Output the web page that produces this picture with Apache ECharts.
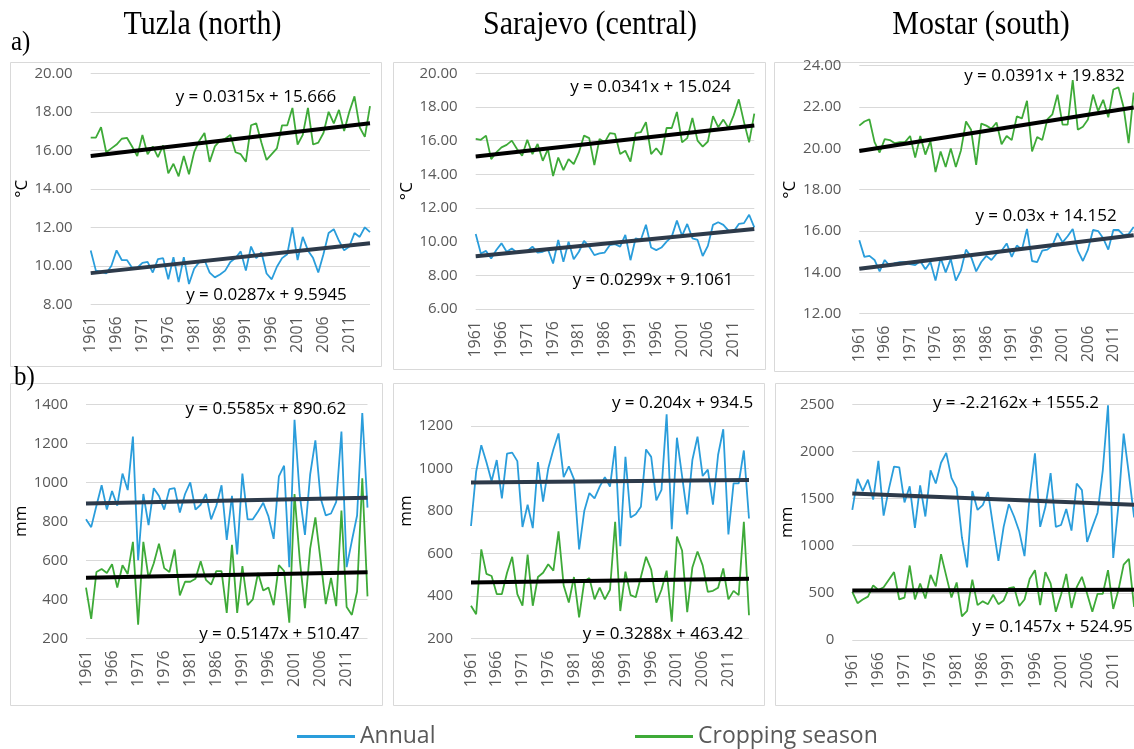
<!DOCTYPE html>
<html><head><meta charset="utf-8">
<script src="https://cdn.jsdelivr.net/npm/echarts@6/dist/echarts.min.js"></script>
<style>html,body{margin:0;padding:0;background:#fff}#c{width:1134px;height:749px}</style>
</head><body><div id="c"></div>
<script>
const years = ['1961','1962','1963','1964','1965','1966','1967','1968','1969','1970','1971','1972','1973','1974','1975','1976','1977','1978','1979','1980','1981','1982','1983','1984','1985','1986','1987','1988','1989','1990','1991','1992','1993','1994','1995','1996','1997','1998','1999','2000','2001','2002','2003','2004','2005','2006','2007','2008','2009','2010','2011','2012','2013','2014','2015'];

// a) temperature (°C)
const tuzlaTempAnnual = [10.79,9.75,9.7,9.6,10.0,10.8,10.3,10.3,9.9,9.9, 10.15,10.2,9.65,10.35,10.4,9.3,10.45,9.15,10.45,9.05, 9.85,10.2,10.3,9.65,9.4,9.55,9.75,10.2,10.4,10.75, 9.75,11.0,10.4,10.7,9.6,9.3,9.95,10.4,10.6,12.0, 10.3,11.5,10.8,10.4,9.65,10.6,11.7,11.9,11.3,10.8, 11.0,11.7,11.5,12.0,11.75];
const tuzlaTempCrop = [16.66,16.66,17.2,15.9,16.1,16.3,16.6,16.65,16.2,15.7, 16.8,15.8,16.2,15.65,16.25,14.8,15.3,14.65,15.7,14.75, 15.9,16.5,16.9,15.4,16.2,16.5,16.6,16.8,15.9,15.8, 15.4,17.3,17.4,16.4,15.5,15.8,16.1,17.3,17.3,18.2, 16.3,16.8,18.2,16.3,16.4,16.9,18.0,17.4,18.1,17.0, 18.0,18.8,17.2,16.7,18.3];
const sarajevoTempAnnual = [10.45,9.3,9.45,9.0,9.5,9.9,9.4,9.6,9.35,9.4, 9.45,9.7,9.35,9.4,9.55,8.7,10.1,8.8,10.0,8.95, 9.4,10.05,9.7,9.2,9.3,9.35,9.8,9.85,9.7,10.4, 8.9,10.2,10.1,11.0,9.65,9.5,9.65,10.0,10.3,11.25, 10.35,11.05,10.2,10.1,9.15,9.75,11.0,11.15,11.0,10.65, 10.6,11.05,11.1,11.6,10.85];
const sarajevoTempCrop = [16.1,16.05,16.3,14.9,15.3,15.6,15.75,16.0,15.5,15.1, 16.05,15.2,15.8,14.8,15.5,13.9,15.0,14.25,14.9,14.6, 15.3,16.3,16.15,14.55,16.1,15.9,16.45,16.4,15.2,15.4, 14.75,16.45,16.5,17.1,15.2,15.55,15.15,16.75,16.75,17.7, 15.9,16.15,17.35,16.0,15.65,15.95,17.45,16.8,17.25,16.75, 17.5,18.45,17.1,15.9,17.6];
const mostarTempAnnual = [15.55,14.75,14.8,14.6,14.05,14.6,14.3,14.45,14.5,14.5, 14.4,14.35,14.55,14.15,14.5,13.6,14.7,14.0,14.65,13.6, 14.1,15.1,14.75,14.05,14.5,14.8,14.6,14.9,15.05,15.4, 14.75,15.3,15.1,16.1,14.55,14.5,15.05,15.1,15.3,15.9, 15.45,15.75,16.1,15.05,14.55,15.1,16.05,16.0,15.65,15.1, 16.05,16.05,15.8,15.85,16.2];
const mostarTempCrop = [21.1,21.3,21.4,20.3,19.8,20.45,20.4,20.25,20.3,20.3, 20.6,19.55,20.6,19.7,20.35,18.85,19.85,19.1,20.0,19.1, 19.9,21.3,20.9,19.2,21.2,21.1,20.95,21.25,20.2,20.6, 20.4,21.55,21.45,22.3,19.85,20.55,20.4,21.4,21.65,22.6, 21.15,21.15,23.3,20.9,21.05,21.4,22.6,21.8,22.35,21.5, 22.85,22.95,22.0,20.25,22.7];

// b) precipitation (mm)
const tuzlaPrecAnnual = [810,770,880,985,860,955,880,1045,960,1235, 600,940,780,970,930,860,965,970,845,940, 1000,860,885,940,810,880,985,705,930,630, 1045,810,810,850,895,825,710,1030,1085,565, 1320,935,730,1040,1215,920,830,840,900,1260, 565,700,830,1355,870];
const tuzlaPrecCrop = [460,300,540,555,535,580,460,575,530,695, 270,695,510,585,685,560,540,655,420,490, 490,505,595,500,475,545,545,330,680,330, 570,370,400,535,445,460,370,575,545,280, 940,605,355,660,820,600,375,510,365,855, 360,320,440,1020,415];
const sarajevoPrecAnnual = [730,985,1110,1030,940,1040,860,1070,1075,1035, 725,830,720,1030,845,1000,1090,1165,960,1010, 950,620,800,885,860,915,960,915,1105,635, 1055,770,785,820,1090,1055,850,900,1255,715, 1145,965,785,1040,1150,965,995,830,1065,1185, 690,930,930,1085,765];
const sarajevoPrecCrop = [355,315,620,505,495,410,410,510,585,410, 355,595,355,490,510,550,520,705,450,370, 490,300,470,485,385,440,385,430,750,330, 515,405,395,490,585,525,370,430,520,280, 680,615,325,535,610,545,420,425,440,530, 385,425,405,750,310];
const mostarPrecAnnual = [1380,1710,1580,1700,1490,1900,1320,1600,1840,1830, 1460,1630,1190,1640,1310,1800,1660,1880,1985,1720, 1610,1090,770,1580,1380,1430,1570,1200,840,1200, 1440,1310,1150,890,1530,1980,1200,1410,1770,1200, 1220,1390,1160,1660,1590,1040,1200,1350,1800,2490, 870,1430,2190,1760,1300];
const mostarPrecCrop = [510,390,430,460,580,530,560,640,720,430, 450,790,430,600,440,690,570,910,680,450, 610,250,310,640,370,410,380,480,380,420, 550,560,360,430,650,740,370,720,600,300, 480,700,340,560,670,490,300,490,490,740, 330,530,800,860,350];

// linear trend end values (1961, 2015)
const tuzlaTempTrendAnnual = [9.62, 11.17];
const tuzlaTempTrendCrop = [15.70, 17.40];
const sarajevoTempTrendAnnual = [9.14, 10.75];
const sarajevoTempTrendCrop = [15.06, 16.90];
const mostarTempTrendAnnual = [14.18, 15.80];
const mostarTempTrendCrop = [19.87, 21.98];
const tuzlaPrecTrendAnnual = [891.2, 921.3];
const tuzlaPrecTrendCrop = [511.0, 538.8];
const sarajevoPrecTrendAnnual = [934.7, 945.7];
const sarajevoPrecTrendCrop = [463.8, 481.5];
const mostarPrecTrendAnnual = [1553.0, 1433.3];
const mostarPrecTrendCrop = [525.1, 533.0];

const equations = [
  ['y = 0.0315x + 15.666', 'y = 0.0287x + 9.5945'],
  ['y = 0.0341x + 15.024', 'y = 0.0299x + 9.1061'],
  ['y = 0.0391x + 19.832', 'y = 0.03x + 14.152'],
  ['y = 0.5585x + 890.62', 'y = 0.5147x + 510.47'],
  ['y = 0.204x + 934.5', 'y = 0.3288x + 463.42'],
  ['y = -2.2162x + 1555.2', 'y = 0.1457x + 524.95']
];
const titles = ['Tuzla (north)', 'Sarajevo (central)', 'Mostar (south)'];

const BLUE = '#2a9ddb', GREEN = '#3eaa38', TREND_A = '#2d3a4a', TREND_C = '#000000';
const FONT = 'Open Sans';

const panels = [
  {grid:{left:90.7, top:73.3, width:279.3, height:231}, min:8, max:20, interval:2, dec:2, unit:'°C', gap:60, A:tuzlaTempAnnual, C:tuzlaTempCrop, tA:tuzlaTempTrendAnnual, tC:tuzlaTempTrendCrop,
   eq:[[256,96.7],[266.5,295]]},
  {grid:{left:475.7, top:73.3, width:278.6, height:235.7}, min:6, max:20, interval:2, dec:2, unit:'°C', gap:60, A:sarajevoTempAnnual, C:sarajevoTempCrop, tA:sarajevoTempTrendAnnual, tC:sarajevoTempTrendCrop,
   eq:[[650.5,86.7],[653,280]]},
  {grid:{left:859.3, top:65.7, width:274.4, height:248}, min:12, max:24, interval:2, dec:2, unit:'°C', gap:60, A:mostarTempAnnual, C:mostarTempCrop, tA:mostarTempTrendAnnual, tC:mostarTempTrendCrop,
   eq:[[1044.5,76],[1046,216]]},
  {grid:{left:86, top:404.3, width:281.5, height:234}, min:200, max:1400, interval:200, dec:0, unit:'mm', gap:54, A:tuzlaPrecAnnual, C:tuzlaPrecCrop, tA:tuzlaPrecTrendAnnual, tC:tuzlaPrecTrendCrop,
   eq:[[265.8,409.3],[279.5,634.3]]},
  {grid:{left:471, top:383.5, width:278, height:255.2}, min:200, max:1400, interval:200, dec:0, unit:'mm', gap:56, hideMax:true, A:sarajevoPrecAnnual, C:sarajevoPrecCrop, tA:sarajevoPrecTrendAnnual, tC:sarajevoPrecTrendCrop,
   eq:[[682.5,403.3],[663,634.3]]},
  {grid:{left:852.3, top:404.3, width:281.8, height:235.7}, min:0, max:2500, interval:500, dec:0, unit:'mm', gap:54, A:mostarPrecAnnual, C:mostarPrecCrop, tA:mostarPrecTrendAnnual, tC:mostarPrecTrendCrop,
   eq:[[1016,403.3],[1052.5,626.7]]}
];

const grids = [], xAxes = [], yAxes = [], series = [], graphics = [];
const boxes = [[10,62,371,304],[393,62,372,307],[774,62,380,309],[10,383,372,322],[393,383,371,322],[775,383,380,322]];
boxes.forEach(b => graphics.push({type:'rect', shape:{x:b[0]+0.5, y:b[1]+0.5, width:b[2], height:b[3]}, style:{fill:'none', stroke:'#d9d9d9', lineWidth:1}, z:0}));

panels.forEach((p, i) => {
  grids.push(Object.assign({outerBoundsMode:'none', containLabel:false}, p.grid));
  xAxes.push({type:'category', gridIndex:i, data:years, boundaryGap:false,
    axisLine:{show:false}, axisTick:{show:false},
    axisLabel:{rotate:90, interval:4, margin:12, color:'#595959', fontSize:16, fontFamily:FONT}});
  yAxes.push({type:'value', gridIndex:i, min:p.min, max:p.max, interval:p.interval,
    name:p.unit, nameLocation:'middle', nameRotate:90, nameGap:p.gap,
    nameTextStyle:{color:'#000', fontSize:17, fontFamily:FONT},
    axisLine:{show:false}, axisTick:{show:false},
    splitLine:{lineStyle:{color:'#d9d9d9', width:1}},
    axisLabel:{margin:18, color:'#595959', fontSize:15, fontFamily:FONT, showMaxLabel: !p.hideMax,
      formatter: v => v.toFixed(p.dec)}});
  const ln = (name, data, color, w, z) => ({type:'line', name, xAxisIndex:i, yAxisIndex:i, data, showSymbol:false, symbol:'none',
    lineStyle:{color, width:w}, itemStyle:{color}, silent:true, z, animation:false});
  series.push(ln('Annual', p.A, BLUE, 1.8, 2));
  series.push(ln('Cropping season', p.C, GREEN, 1.8, 2));
  series.push(ln('trendA'+i, [[years[0], p.tA[0]], [years[years.length-1], p.tA[1]]], TREND_A, 4, 3));
  series.push(ln('trendC'+i, [[years[0], p.tC[0]], [years[years.length-1], p.tC[1]]], TREND_C, 4, 3));
  equations[i].forEach((t, k) => graphics.push({type:'text', x:p.eq[k][0], y:p.eq[k][1], z:10,
    style:{text:t, fill:'#000', font:'17px "Open Sans"', textAlign:'center', textVerticalAlign:'middle'}}));
});

const titleX = [202.5, 590, 981];
titles.forEach((t, k) => graphics.push({type:'text', x:titleX[k], y:42, scaleY:1.12, z:10,
  style:{text:t, fill:'#000', font:'30px "Liberation Serif"', textAlign:'center', textVerticalAlign:'bottom'}}));
graphics.push({type:'text', x:11, y:57, scaleY:1.1, z:10, style:{text:'a)', fill:'#000', font:'25px "Liberation Serif"', textAlign:'left', textVerticalAlign:'bottom'}});
graphics.push({type:'text', x:14, y:392, scaleY:1.1, z:10, style:{text:'b)', fill:'#000', font:'25px "Liberation Serif"', textAlign:'left', textVerticalAlign:'bottom'}});

const legendBase = {orient:'horizontal', padding:0, itemWidth:58, itemHeight:3, itemGap:0, selectedMode:false,
  textStyle:{fontSize:23, color:'#595959', fontFamily:FONT}};
const chart = echarts.init(document.getElementById('c'), null, {renderer:'canvas'});
chart.setOption({
  animation:false,
  backgroundColor:'#fff',
  grid: grids, xAxis: xAxes, yAxis: yAxes, series,
  legend:[
    Object.assign({}, legendBase, {left:297, top:725, data:[{name:'Annual', icon:'rect', itemStyle:{color:BLUE}}]}),
    Object.assign({}, legendBase, {left:635, top:725, data:[{name:'Cropping season', icon:'rect', itemStyle:{color:GREEN}}]})
  ],
  graphic: graphics
});
</script></body></html>
